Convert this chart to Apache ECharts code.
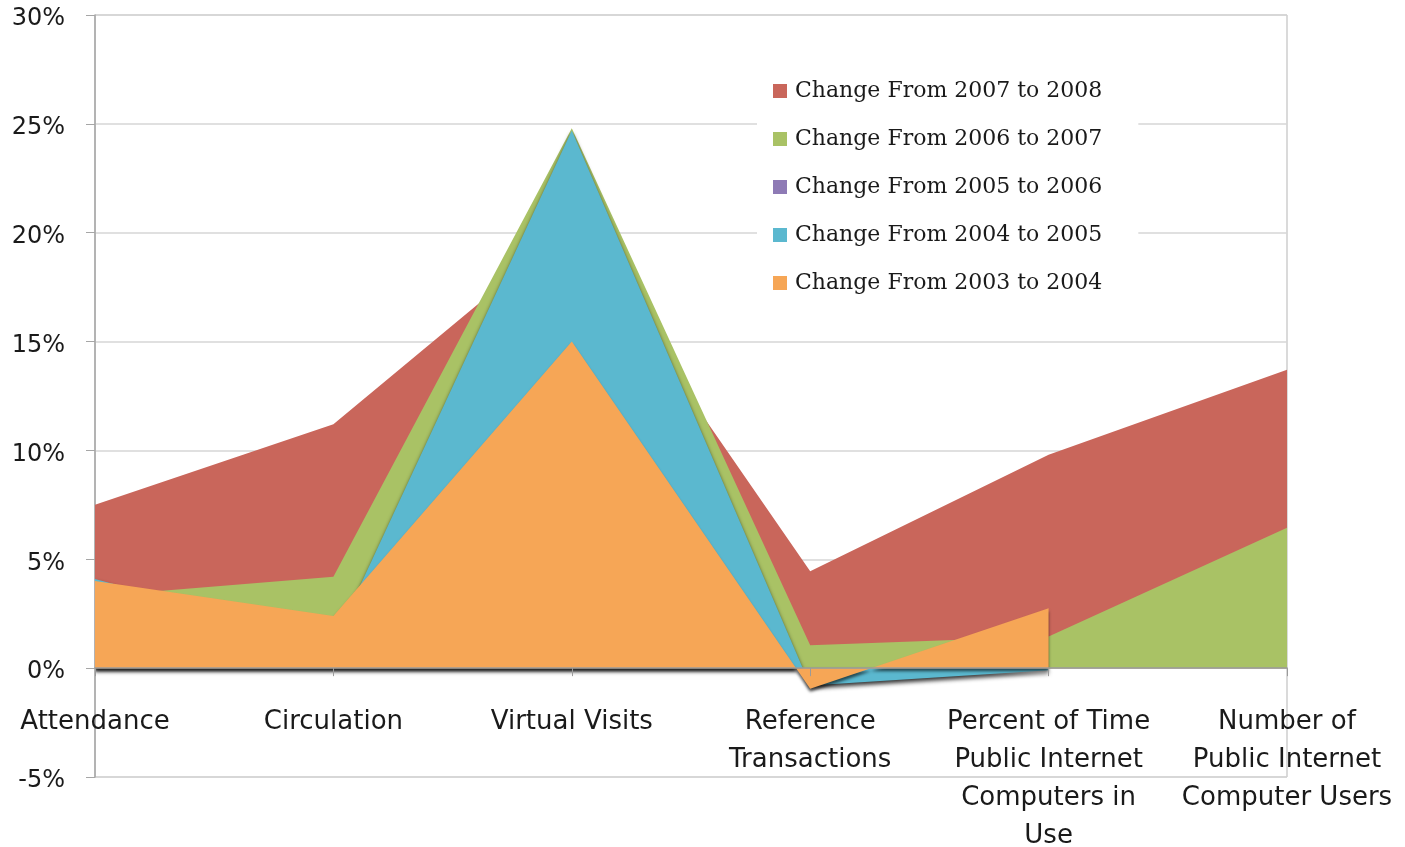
<!DOCTYPE html>
<html>
<head>
<meta charset="utf-8">
<script src="https://cdn.jsdelivr.net/npm/echarts@6/dist/echarts.min.js"></script>
<style>html,body{margin:0;padding:0;background:#fff}#c{width:1405px;height:847px}</style>
</head>
<body>
<div id="c"></div>
<script>
const categories = ["Attendance", "Circulation", "Virtual Visits", "Reference\nTransactions", "Percent of Time\nPublic Internet\nComputers in\nUse", "Number of\nPublic Internet\nComputer Users"];
const seriesNames = ["Change From 2007 to 2008", "Change From 2006 to 2007", "Change From 2005 to 2006", "Change From 2004 to 2005", "Change From 2003 to 2004"];
const change2007to2008 = [7.5, 11.2, 20.3, 4.45, 9.8, 13.7];
const change2006to2007 = [3.3, 4.2, 24.8, 1.05, 1.45, 6.45];
const change2005to2006 = [0, 0, 0, 0, 0, null];
const change2004to2005 = [4.1, 1.15, 24.7, -0.8, -0.1, null];
const change2003to2004 = [4.0, 2.4, 15.0, -0.95, 2.75, null];
const yTicks = { min: -5, max: 30, interval: 5 };
const colors = ["#C9665B", "#A9C265", "#8E7AB5", "#5BB8CF", "#F6A656"];

const seriesData = [change2007to2008, change2006to2007, change2005to2006, change2004to2005, change2003to2004];

const W = 1405, H = 847;
const gridTop = 15, gridBottom = 70;
const gridH = H - gridTop - gridBottom;
const zeroOffset = gridH * (0 - yTicks.min) / (yTicks.max - yTicks.min);

const chart = echarts.init(document.getElementById('c'), null, { renderer: 'canvas' });
const series = seriesData.map((d, i) => {
  const s = {
    name: seriesNames[i],
    type: 'line',
    data: d,
    symbol: 'none',
    showSymbol: false,
    connectNulls: false,
    lineStyle: { width: 0 },
    itemStyle: { color: colors[i] },
    areaStyle: { color: colors[i], opacity: 1 }
  };
  if (i === 3) {
    s.areaStyle.shadowColor = 'rgba(0,0,0,0.8)';
    s.areaStyle.shadowBlur = 4;
    s.areaStyle.shadowOffsetY = 3;
  }
  if (i === 4) {
    s.areaStyle.shadowColor = 'rgba(0,0,0,0.6)';
    s.areaStyle.shadowBlur = 3;
    s.areaStyle.shadowOffsetY = 3;
  }
  return s;
});

chart.setOption({
  animation: false,
  backgroundColor: '#fff',
  color: colors,
  grid: { left: 95, right: 118, top: gridTop, bottom: gridBottom, show: true, borderColor: '#b5b5b5', borderWidth: 1, containLabel: false, outerBoundsMode: 'none' },
  legend: {
    orient: 'vertical',
    left: 757, top: 70,
    padding: [8, 36, 10, 16],
    backgroundColor: '#fff',
    itemWidth: 14, itemHeight: 14, itemGap: 22,
    icon: 'rect',
    data: seriesNames,
    textStyle: { fontFamily: 'DejaVu Serif', fontSize: 22, color: '#1a1a1a', lineHeight: 26, padding: [0, 0, 0, 3] }
  },
  xAxis: {
    type: 'category',
    data: categories,
    boundaryGap: false,
    z: 5,
    offset: -zeroOffset,
    axisLine: { onZero: false, lineStyle: { color: '#9a9a9a', width: 1.5 } },
    axisTick: { show: true, length: 8, lineStyle: { color: '#9a9a9a' } },
    axisLabel: { margin: 35, fontFamily: 'DejaVu Sans', fontSize: 26, color: '#1a1a1a', lineHeight: 38, interval: 0 },
    splitLine: { show: false }
  },
  yAxis: {
    type: 'value',
    min: yTicks.min, max: yTicks.max, interval: yTicks.interval,
    axisLine: { show: true, lineStyle: { color: '#a6a6a6', width: 1.5 } },
    axisTick: { show: true, length: 9, lineStyle: { color: '#a6a6a6' } },
    axisLabel: {
      formatter: v => '{a|' + v + '%}',
      margin: 30,
      rich: { a: { fontFamily: 'DejaVu Sans', fontSize: 24, color: '#1a1a1a', padding: [8, 0, 0, 0] } }
    },
    splitLine: { show: true, lineStyle: { color: '#d6d6d6', width: 1.5 } }
  },
  series: series
});
</script>
</body>
</html>
